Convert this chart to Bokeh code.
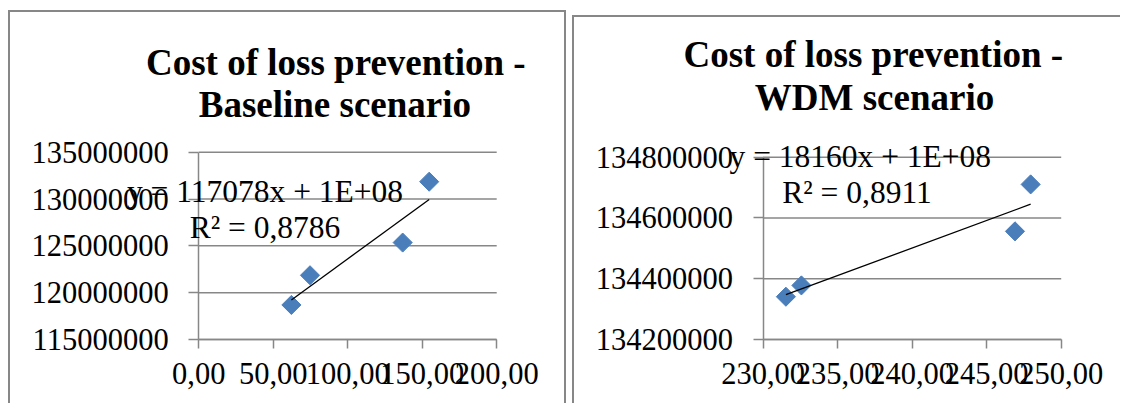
import numpy as np
from bokeh.plotting import figure
from bokeh.models import Range1d, FixedTicker, Label
from bokeh.layouts import row
from bokeh.embed import file_html
from bokeh.resources import INLINE

# ---------------- data ----------------
base_x = [62.2, 74.7, 136.9, 154.7]
base_y = [118690000, 121860000, 125350000, 131850000]
base_xticks = [0, 50, 100, 150, 200]
base_xlabels = ["0,00", "50,00", "100,00", "150,00", "200,00"]
base_yticks = [115000000, 120000000, 125000000, 130000000, 135000000]
base_ylabels = ["115000000", "120000000", "125000000", "130000000", "135000000"]
base_title = ["Cost of loss prevention -", "Baseline scenario"]
base_eq = ["y = 117078x + 1E+08", "R\u00b2 = 0,8786"]

wdm_x = [231.53, 232.57, 246.9, 247.95]
wdm_y = [134340800, 134378000, 134556000, 134710500]
wdm_xticks = [230, 235, 240, 245, 250]
wdm_xlabels = ["230,00", "235,00", "240,00", "245,00", "250,00"]
wdm_yticks = [134200000, 134400000, 134600000, 134800000]
wdm_ylabels = ["134200000", "134400000", "134600000", "134800000"]
wdm_title = ["Cost of loss prevention -", "WDM scenario"]
wdm_eq = ["y = 18160x + 1E+08", "R\u00b2 = 0,8911"]

SERIF = "Liberation Serif"
GRID = "#878787"
MARK = "#4a7ebb"


def span_range(lo, hi, p_lo, p_hi, size):
    """Range so that value lo sits at pixel p_lo and hi at p_hi (from start edge)."""
    k = (hi - lo) / (p_hi - p_lo)
    return Range1d(lo - p_lo * k, hi + (size - p_hi) * k)


def make_chart(xs, ys, xticks, xlabels, yticks, ylabels, title, eq,
               width, height, plot_box, margin, styles, title_pos, eq_pos):
    # plot_box: (left px, right px, top px, bottom px) of the axes area in canvas
    left, right, top, bottom = plot_box
    p = figure(width=width, height=height, output_backend="svg",
               toolbar_location=None, title=None, min_border=0,
               x_range=span_range(xticks[0], xticks[-1], left, right, width),
               y_range=span_range(yticks[0], yticks[-1], height - bottom,
                                  height - top, height),
               margin=margin, styles=styles)
    p.outline_line_color = None
    p.background_fill_color = "white"
    p.border_fill_color = "white"
    p.xgrid.visible = False
    p.ygrid.visible = False

    p.xaxis.fixed_location = yticks[0]
    p.yaxis.fixed_location = xticks[0]
    p.xaxis.bounds = (xticks[0], xticks[-1])
    p.yaxis.bounds = (yticks[0], yticks[-1])
    p.xaxis.ticker = FixedTicker(ticks=xticks)
    p.yaxis.ticker = FixedTicker(ticks=yticks)
    p.xaxis.major_label_overrides = {t: l for t, l in zip(xticks, xlabels)}
    p.yaxis.major_label_overrides = {t: l for t, l in zip(yticks, ylabels)}
    for ax in (p.xaxis[0], p.yaxis[0]):
        ax.axis_line_color = GRID
        ax.axis_line_width = 1.5
        ax.major_tick_line_color = GRID
        ax.major_tick_line_width = 1.5
        ax.major_tick_in = 0
        ax.minor_tick_line_color = None
        ax.major_label_text_font = SERIF
        ax.major_label_text_font_size = "30.5px"
        ax.major_label_text_color = "black"
    p.yaxis.major_tick_out = 10
    p.xaxis.major_tick_out = 9
    p.yaxis.major_label_standoff = 20
    p.xaxis.major_label_standoff = 14

    # horizontal gridlines spanning the axis extent
    p.segment(x0=[xticks[0]] * len(yticks), x1=[xticks[-1]] * len(yticks),
              y0=yticks, y1=yticks, line_color=GRID, line_width=1.5)

    # markers
    p.scatter(xs, ys, marker="square", angle=np.pi / 4, size=13.5,
              fill_color=MARK, line_color=MARK)
    # linear trendline
    fit = np.polyfit(xs, ys, 1)
    tx = [min(xs), max(xs)]
    p.line(tx, list(np.polyval(fit, tx)), line_color="black", line_width=1.3)

    # title (two lines)
    for txt, (lx, ly) in zip(title, title_pos):
        p.add_layout(Label(x=lx, y=height - ly, x_units="screen",
                           y_units="screen", text=txt, text_align="center",
                           text_baseline="middle", text_font=SERIF,
                           text_font_style="bold", text_font_size="37px",
                           text_color="black"))
    # equation
    for txt, (lx, ly) in zip(eq, eq_pos):
        p.add_layout(Label(x=lx, y=height - ly, x_units="screen",
                           y_units="screen", text=txt, text_align="center",
                           text_baseline="middle", text_font=SERIF,
                           text_font_size="31.5px", text_color="black"))
    return p


border = "2px solid #878787"
# left chart: canvas at x 10..568, y 12..405
left = make_chart(base_x, base_y, base_xticks, base_xlabels, base_yticks,
                  base_ylabels, base_title, base_eq,
                  width=558, height=393, plot_box=(188.2, 486.2, 139.7, 327),
                  margin=(10, 0, 0, 8),
                  styles={"border-left": border, "border-top": border,
                          "border-right": border},
                  title_pos=[(325.3, 49.5), (324.4, 91.5)],
                  eq_pos=[(254.5, 179), (254.5, 215)])
# right chart: canvas at x 578..1126, y 17..405
right = make_chart(wdm_x, wdm_y, wdm_xticks, wdm_xlabels, wdm_yticks,
                   wdm_ylabels, wdm_title, wdm_eq,
                   width=548, height=388, plot_box=(188.6, 486.7, 139.7, 322),
                   margin=(15, 0, 0, 6),
                   styles={"border-left": border, "border-top": border},
                   title_pos=[(298.8, 36.5), (300, 80.2)],
                   eq_pos=[(285.8, 139), (282.5, 174.7)])

layout = row(left, right)
open("out.html", "w").write(file_html(layout, INLINE))
